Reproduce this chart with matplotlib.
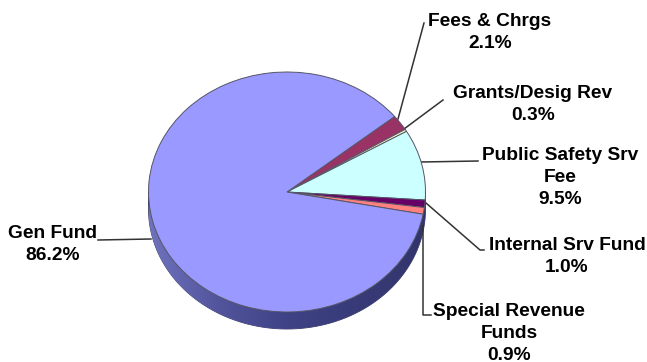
import numpy as np
import matplotlib
matplotlib.use("Agg")
import matplotlib.pyplot as plt
from matplotlib.colors import LinearSegmentedColormap
from matplotlib.patches import Polygon

W, H = 647, 362
CX, CY, RX, RY, DEPTH = 287, 192, 138.5, 120, 17

# Clockwise from the top right, so the big slice wraps around the left
names = ["Fees & Chrgs", "Grants/Desig Rev", "Public Safety Srv\nFee",
         "Internal Srv Fund", "Special Revenue\nFunds", "Gen Fund"]
shares = [2.1, 0.3, 9.5, 1.0, 0.9, 86.2]
colors = ["#993366", "#ffffcc", "#ccffff", "#660066", "#ff8080", "#9999ff"]

# label centre and the leader path for each slice, in pixels
label_pos = [(490, 21), (533, 94), (560, 156), (567, 245), (509, 311), (53, 234)]
leaders = [
    [(398, 119), (424, 23)],
    [(404, 129), (443, 100)],
    [(421, 162), (478, 161)],
    [(426, 203), (480, 250), (484, 250)],
    [(423, 226), (423, 315), (431, 315)],
    [(98, 240), (151, 239)],
]

plt.rcParams['font.family'] = ['Liberation Sans', 'DejaVu Sans']

fig = plt.figure(figsize=(W / 100, H / 100), dpi=100, facecolor="white")

# overlay in pixel coordinates for the side wall, leaders and labels
bg = fig.add_axes([0, 0, 1, 1])
bg.set_xlim(0, W)
bg.set_ylim(H, 0)
bg.axis("off")

# side wall of the disc, shaded left to right
wall_cmap = LinearSegmentedColormap.from_list(
    "wall", ["#6f72bd", "#52559c", "#3f4285", "#383b78", "#32356b"])
t = np.radians(np.linspace(0, 180, 200))
top_x = CX + RX * np.cos(t)
top_y = CY + RY * np.sin(t)
outline = np.vstack([
    np.column_stack([top_x, top_y + DEPTH]),
    np.column_stack([top_x[::-1], top_y[::-1]]),
])
wall = Polygon(outline, closed=True, facecolor="none", edgecolor="#33355f", lw=0.6)
bg.add_patch(wall)
grad = bg.imshow(np.linspace(0, 1, 256).reshape(1, -1), cmap=wall_cmap,
                 extent=(CX - RX, CX + RX, CY + RY + DEPTH, CY), aspect="auto", zorder=1)
grad.set_clip_path(wall)
bg.set_xlim(0, W)
bg.set_ylim(H, 0)

# top face: a regular pie squeezed into an elliptical axes
pie_ax = fig.add_axes([(CX - RX) / W, 1 - (CY + RY) / H, 2 * RX / W, 2 * RY / H])
pie_ax.patch.set_alpha(0)
pie_ax.pie(shares, colors=colors, startangle=39, counterclock=False, radius=1,
           wedgeprops={"edgecolor": "#555566", "linewidth": 0.7})
pie_ax.set_aspect("auto")
pie_ax.set_xlim(-1, 1)
pie_ax.set_ylim(-1, 1)

for name, share, (lx, ly), path in zip(names, shares, label_pos, leaders):
    xs, ys = zip(*path)
    bg.plot(xs, ys, color="#333333", lw=1.1, zorder=2)
    lines = name.split("\n") + [f"{share:.1f}%"]
    for i, line in enumerate(lines):
        bg.text(lx, ly + 22 * i, line, ha="center", va="center",
                fontsize=13.8, fontweight="bold", color="black", zorder=3)

fig.savefig("out.png", dpi=100)
